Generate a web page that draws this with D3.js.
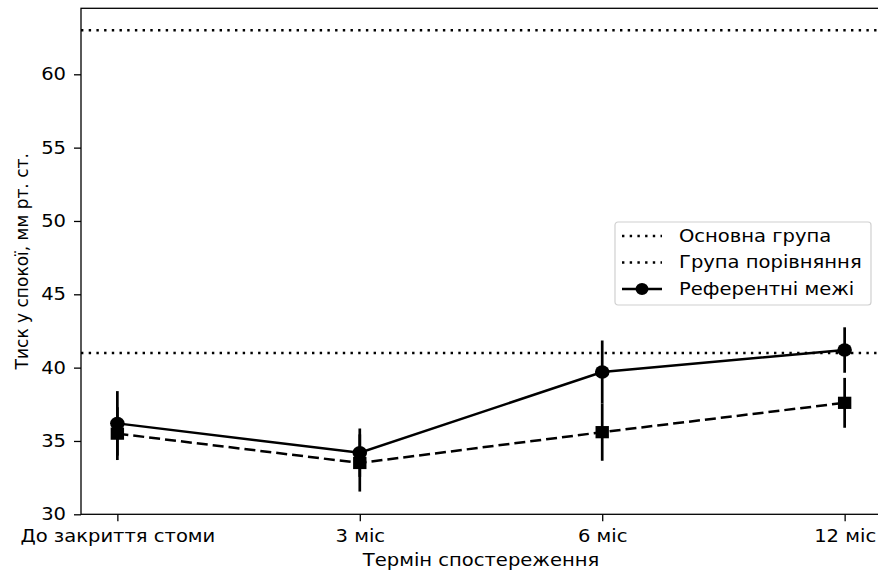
<!DOCTYPE html>
<html>
<head>
<meta charset="utf-8">
<script src="https://cdn.jsdelivr.net/npm/d3@7"></script>
<style>
  html, body { margin: 0; padding: 0; background: #fff; }
  svg { display: block; font-family: "DejaVu Sans", sans-serif; }
</style>
</head>
<body>
<svg id="chart" width="878" height="571"></svg>
<script>
// Observation points
const categories = ["До закриття стоми", "3 міс", "6 міс", "12 міс"];

// Series drawn with circles and a solid line
const circleMeans = [36.2, 34.2, 39.7, 41.2];
const circleErrors = [2.2, 1.65, 2.15, 1.55];

// Series drawn with squares and a dashed line
const squareMeans = [35.5, 33.5, 35.6, 37.6];
const squareErrors = [1.8, 1.95, 1.95, 1.7];

// Horizontal dotted levels
const levelValues = [63, 41];

// Legend texts
const legendLabels = ["Основна група", "Група порівняння", "Референтні межі"];

// Axis ticks and titles
const yTicks = [30, 35, 40, 45, 50, 55, 60];
const yDomain = [30, 64.5];
const xTitle = "Термін спостереження";
const yTitle = "Тиск у спокої, мм рт. ст.";

const svg = d3.select("#chart");
const plot = { left: 81, right: 881, top: 8.3, bottom: 514.3 };
const fontSize = 17;
const widen = 1.15;   // horizontal text stretch

const x = d3.scalePoint()
  .domain(categories)
  .range([plot.left, plot.right])
  .padding(0.15);

const y = d3.scaleLinear()
  .domain(yDomain)
  .range([plot.bottom, plot.top]);

// Dotted reference levels
svg.append("g")
  .selectAll("line")
  .data(levelValues)
  .join("line")
  .attr("x1", plot.left)
  .attr("x2", plot.right)
  .attr("y1", d => y(d))
  .attr("y2", d => y(d))
  .attr("stroke", "#000")
  .attr("stroke-width", 2.4)
  .attr("stroke-dasharray", "2.4,5.3");

function drawSeries(means, errors, opts) {
  const pts = categories.map((c, i) => ({ c, m: means[i], e: errors[i] }));
  const g = svg.append("g");

  g.selectAll("line.err")
    .data(pts)
    .join("line")
    .attr("class", "err")
    .attr("x1", d => x(d.c))
    .attr("x2", d => x(d.c))
    .attr("y1", d => y(d.m - d.e))
    .attr("y2", d => y(d.m + d.e))
    .attr("stroke", "#000")
    .attr("stroke-width", 2.7);

  g.append("path")
    .datum(pts)
    .attr("fill", "none")
    .attr("stroke", "#000")
    .attr("stroke-width", 2.5)
    .attr("stroke-dasharray", opts.dash || null)
    .attr("d", d3.line().x(d => x(d.c)).y(d => y(d.m)));

  const sym = d3.symbol().type(opts.symbol).size(opts.size);
  g.selectAll("path.mark")
    .data(pts)
    .join("path")
    .attr("class", "mark")
    .attr("transform", d => `translate(${x(d.c)},${y(d.m)}) scale(${widen * 0.95},1)`)
    .attr("d", sym)
    .attr("fill", "#000");
}

drawSeries(squareMeans, squareErrors, { symbol: d3.symbolSquare, size: 150, dash: "11,5" });
drawSeries(circleMeans, circleErrors, { symbol: d3.symbolCircle, size: 140 });

// Axes
const xAxis = svg.append("g")
  .attr("transform", `translate(0,${plot.bottom})`)
  .call(d3.axisBottom(x).tickSize(7).tickPadding(9));

const yAxis = svg.append("g")
  .attr("transform", `translate(${plot.left},0)`)
  .call(d3.axisLeft(y).tickValues(yTicks).tickSize(7).tickPadding(8));

[xAxis, yAxis].forEach(a => {
  a.select(".domain").remove();
  a.selectAll("line").attr("stroke", "#000").attr("stroke-width", 1.3);
  a.selectAll("text")
    .attr("fill", "#000")
    .style("font-size", fontSize + "px")
    .style("font-family", "'DejaVu Sans', sans-serif");
});
// Stretch tick labels horizontally around their anchor points
xAxis.selectAll("text").attr("transform", `scale(${widen},1)`);
yAxis.selectAll("text").each(function () {
  const t = d3.select(this);
  const x0 = +t.attr("x");
  t.attr("x", x0 / widen).attr("transform", `scale(${widen},1)`);
});

// Frame
svg.append("rect")
  .attr("x", plot.left)
  .attr("y", plot.top)
  .attr("width", plot.right - plot.left)
  .attr("height", plot.bottom - plot.top)
  .attr("fill", "none")
  .attr("stroke", "#000")
  .attr("stroke-width", 1.3);

// Axis titles
svg.append("text")
  .attr("transform", `translate(${(plot.left + plot.right) / 2},566) scale(${widen},1)`)
  .attr("text-anchor", "middle")
  .style("font-size", fontSize + "px")
  .text(xTitle);

svg.append("text")
  .attr("transform", `translate(28,${(plot.top + plot.bottom) / 2}) rotate(-90)`)
  .attr("text-anchor", "middle")
  .style("font-size", fontSize + "px")
  .text(yTitle);

// Legend
const lg = svg.append("g").attr("transform", "translate(615,222)");
lg.append("rect")
  .attr("width", 256)
  .attr("height", 83)
  .attr("rx", 3)
  .attr("fill", "#fff")
  .attr("fill-opacity", 0.8)
  .attr("stroke", "#d0d0d0")
  .attr("stroke-width", 1.2);

legendLabels.forEach((label, i) => {
  const cy = 14 + i * 26.5;
  const row = lg.append("g").attr("transform", `translate(0,${cy})`);
  if (i < 2) {
    row.append("line")
      .attr("x1", 7).attr("x2", 47)
      .attr("stroke", "#000")
      .attr("stroke-width", 2.4)
      .attr("stroke-dasharray", "2.4,5.3");
  } else {
    row.append("line")
      .attr("x1", 7).attr("x2", 47)
      .attr("stroke", "#000")
      .attr("stroke-width", 2.5);
    row.append("line")
      .attr("x1", 27).attr("x2", 27)
      .attr("y1", -5).attr("y2", 5)
      .attr("stroke", "#000")
      .attr("stroke-width", 2.7);
    row.append("path")
      .attr("transform", `translate(27,0) scale(${widen * 0.95},1)`)
      .attr("d", d3.symbol().type(d3.symbolCircle).size(110)())
      .attr("fill", "#000");
  }
  row.append("text")
    .attr("transform", `translate(64,0) scale(${widen},1)`)
    .attr("dy", "0.35em")
    .style("font-size", fontSize + "px")
    .text(label);
});
</script>
</body>
</html>
